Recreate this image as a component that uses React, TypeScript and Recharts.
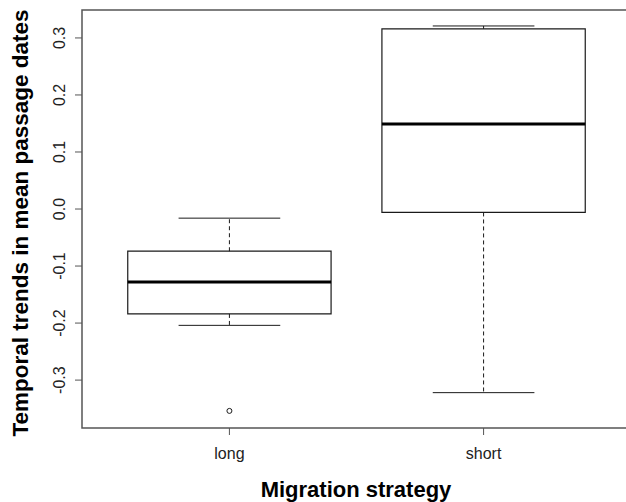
import React from "react";
import { ComposedChart, XAxis, YAxis, Scatter, ReferenceArea, ReferenceLine } from "recharts";

// box statistics per migration strategy
const categories = ["long", "short"];
const positions = [1, 2];
const whiskerLow = [-0.204, -0.322];
const lowerQuartile = [-0.184, -0.006];
const medians = [-0.128, 0.149];
const upperQuartile = [-0.074, 0.316];
const whiskerHigh = [-0.016, 0.321];
const outlierGroup = [1];
const outlierValues = [-0.354];

const yTicks = [-0.3, -0.2, -0.1, 0.0, 0.1, 0.2, 0.3];
const xDomain: [number, number] = [0.42, 2.58];
const yDomain: [number, number] = [-0.384, 0.349];

const FONT = "'Liberation Sans', Arial, Helvetica, sans-serif";
const INK = "#1a1a1a";
const FRAME = "#555";

const outliers = outlierGroup.map((g, i) => ({ x: g, y: outlierValues[i] }));

const YTick = ({ x, y, payload }: any) => (
    <text
        x={x - 8}
        y={y}
        transform={`rotate(-90, ${x - 8}, ${y})`}
        textAnchor="middle"
        fontSize={16}
        fontFamily={FONT}
        fill="#222"
    >
        {payload.value.toFixed(1)}
    </text>
);

const XTick = ({ x, payload }: any) => (
    <text x={x} y={459} textAnchor="middle" fontSize={16} fontFamily={FONT} fill="#222">
        {categories[payload.value - 1]}
    </text>
);

const OpenCircle = ({ cx, cy }: any) => (
    <circle cx={cx} cy={cy} r={2.5} fill="#fff" stroke={INK} strokeWidth={1} />
);

export default function App() {
    return (
        <div style={{ position: "absolute", left: 0, top: 0, width: 626, height: 502, overflow: "hidden", background: "#fff" }}>
            <ComposedChart width={640} height={502} margin={{ top: 10, right: 9, bottom: 0, left: 0 }}>
                <XAxis
                    type="number"
                    dataKey="x"
                    domain={xDomain}
                    ticks={positions}
                    allowDataOverflow
                    axisLine={false}
                    tickLine={{ stroke: FRAME }}
                    tickSize={7}
                    height={74}
                    tick={<XTick />}
                />
                <YAxis
                    type="number"
                    dataKey="y"
                    domain={yDomain}
                    ticks={yTicks}
                    allowDataOverflow
                    axisLine={false}
                    tickLine={{ stroke: FRAME }}
                    tickSize={7}
                    width={82}
                    tick={<YTick />}
                />

                {/* plot frame */}
                <ReferenceArea x1={xDomain[0]} x2={xDomain[1]} y1={yDomain[0]} y2={yDomain[1]} fill="none" stroke={FRAME} strokeWidth={1.5} ifOverflow="visible" />

                {positions.map((p, i) => (
                    <React.Fragment key={categories[i]}>
                        {/* whiskers */}
                        <ReferenceLine segment={[{ x: p, y: upperQuartile[i] }, { x: p, y: whiskerHigh[i] }]} stroke={INK} strokeDasharray="4 3" />
                        <ReferenceLine segment={[{ x: p, y: lowerQuartile[i] }, { x: p, y: whiskerLow[i] }]} stroke={INK} strokeDasharray="4 3" />
                        {/* staples */}
                        <ReferenceLine segment={[{ x: p - 0.2, y: whiskerHigh[i] }, { x: p + 0.2, y: whiskerHigh[i] }]} stroke={INK} />
                        <ReferenceLine segment={[{ x: p - 0.2, y: whiskerLow[i] }, { x: p + 0.2, y: whiskerLow[i] }]} stroke={INK} />
                        {/* box */}
                        <ReferenceArea x1={p - 0.4} x2={p + 0.4} y1={lowerQuartile[i]} y2={upperQuartile[i]} fill="#fff" fillOpacity={1} stroke={INK} strokeWidth={1.2} />
                        {/* median */}
                        <ReferenceLine segment={[{ x: p - 0.4, y: medians[i] }, { x: p + 0.4, y: medians[i] }]} stroke="#000" strokeWidth={3} />
                    </React.Fragment>
                ))}

                <Scatter data={outliers} shape={<OpenCircle />} isAnimationActive={false} />
            </ComposedChart>

            <svg width={626} height={502} style={{ position: "absolute", left: 0, top: 0, pointerEvents: "none" }}>
                <text x={356} y={497} textAnchor="middle" fontSize={22} fontWeight="bold" fontFamily={FONT} fill="#000">
                    Migration strategy
                </text>
                <text x={28} y={223} transform="rotate(-90, 28, 223)" textAnchor="middle" fontSize={22.5} fontWeight="bold" fontFamily={FONT} fill="#000">
                    Temporal trends in mean passage dates
                </text>
            </svg>
        </div>
    );
}
